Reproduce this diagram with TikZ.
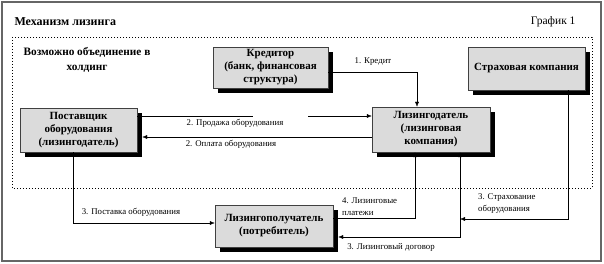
\documentclass[tikz,border=0pt]{standalone}
\usepackage{fontspec}
\setmainfont{Liberation Serif}
\usetikzlibrary{arrows.meta,shadows}

\begin{document}
\begin{tikzpicture}[x=1pt, y=-1pt,
    box/.style={draw=black!75, fill=black!14, align=center, inner sep=1pt,
        font=\bfseries\fontsize{11}{13}\selectfont,
        minimum width=117pt, minimum height=43pt,
        general shadow={fill=black, shadow xshift=5pt, shadow yshift=-5pt}},
    conn/.style={-{Latex[length=5pt,width=4pt]}},
    lbl/.style={font=\fontsize{8.8}{12}\selectfont, align=left, inner sep=0pt}]

    \useasboundingbox (0,0) rectangle (604,264);
    \draw[black!60, line width=1.5pt] (2,2) rectangle (601,261);
    \draw[line width=0.8pt, dash pattern=on 0.8pt off 2.2pt] (12,37) rectangle (592,188);

    \node[anchor=west, font=\bfseries\fontsize{12}{14}\selectfont] (title) at (11,22) {Механизм лизинга};
    \node[anchor=east, font=\fontsize{11.5}{14}\selectfont] (graph) at (579,22) {График 1};
    \node[align=center, font=\bfseries\fontsize{11.3}{15}\selectfont] (holding) at (87,60) {Возможно объединение в\\холдинг};

    % participants
    \node[box, minimum width=115pt, minimum height=41pt] (cred) at (270.5,67.5) {Кредитор\\(банк, финансовая\\структура)};
    \node[box] (ins) at (526.5,68.5) {Страховая компания};
    \node[box, minimum height=44pt] (sup) at (78.5,130) {Поставщик\\оборудования\\(лизингодатель)};
    \node[box, minimum width=118pt, minimum height=45pt] (lessor) at (431,129.5) {Лизингодатель\\(лизинговая\\компания)};
    \node[box, minimum width=118pt, minimum height=42pt] (lessee) at (274,226) {Лизингополучатель\\(потребитель)};

    % flows
    \draw[conn] ([yshift=-4.5pt]cred.east) -| ([xshift=-14pt]lessor.north);
    \node[lbl] (credit) at (373,62) {1. Кредит};

    \coordinate (gapL) at (253,116);
    \coordinate (gapR) at (308,116);
    \draw ([yshift=14pt]sup.east) -- (gapL);
    \draw[conn] (gapR) -- (gapR -| lessor.west);
    \node[lbl] (sale) at (235,123.5) {2. Продажа оборудования};

    \draw[conn] ([yshift=-7.5pt]lessor.west) -- ([yshift=-7pt,xshift=5pt]sup.east);
    \node[lbl] (pay) at (231,144) {2. Оплата оборудования};

    \draw[conn] ([xshift=-5.5pt]sup.south) |- ([yshift=3pt]lessee.west);
    \node[lbl] (supply) at (131,212) {3. Поставка оборудования};

    \draw[conn] ([yshift=8pt]lessee.east) -| ([xshift=-16pt]lessor.south);
    \node[lbl, anchor=west] (payments) at (342,207) {4. Лизинговые\\платежи};

    \draw[{Latex[length=5pt,width=4pt]}-{Latex[length=5pt,width=4pt]}]
        ([xshift=5pt,yshift=-11pt]lessee.east) -| ([xshift=29pt]lessor.south);
    \node[lbl] (contract) at (391,247.5) {3. Лизинговый договор};

    \coordinate (joint) at (460,219);
    \draw[conn] ([xshift=41.5pt]ins.south) |- (joint);
    \node[lbl, anchor=west] (insure) at (478,204) {3. Страхование\\оборудования};
\end{tikzpicture}
\end{document}
